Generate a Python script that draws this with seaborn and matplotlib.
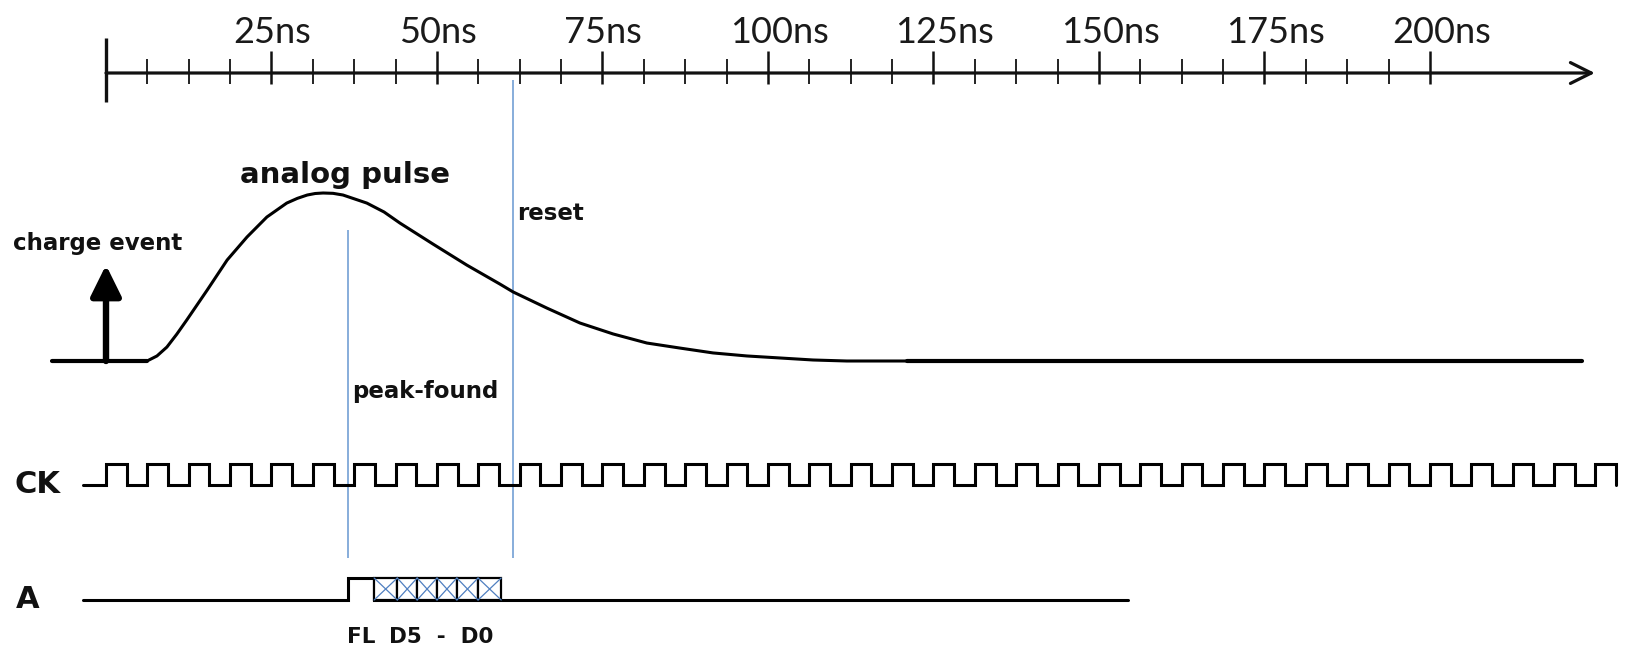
import numpy as np
import pandas as pd
import matplotlib
matplotlib.use("Agg")
import matplotlib.pyplot as plt
import seaborn as sns
from matplotlib.patches import Rectangle

# ------------------------------------------------------------------ data
tick_major_ns = [25, 50, 75, 100, 125, 150, 175, 200]
tick_labels = ["25ns", "50ns", "75ns", "100ns", "125ns", "150ns", "175ns", "200ns"]
minor_step_ns = 6.25
axis_end_ns = 224.9

# analog pulse (time in ns, normalised amplitude)
pulse_t_ns = [6.2, 7.7, 9.2, 10.7, 12.2, 15.3, 18.3, 21.3, 24.3, 27.3, 28.9,
              30.4, 31.6, 32.8, 34.3, 35.8, 39.4, 42.0, 44.4, 49.4, 54.5,
              59.5, 61.5, 66.6, 71.6, 76.6, 81.7, 86.7, 91.7, 96.8, 101.8,
              106.8, 111.9, 121.0]
pulse_amp = [0.0, 0.03, 0.083, 0.16, 0.244, 0.423, 0.601, 0.738, 0.857, 0.940,
             0.968, 0.988, 0.997, 1.0, 0.998, 0.988, 0.940, 0.887, 0.821,
             0.696, 0.571, 0.458, 0.411, 0.315, 0.226, 0.161, 0.107, 0.077,
             0.048, 0.030, 0.018, 0.006, 0.0, 0.0]
baseline_left_ns = [-8.2, 6.2]
baseline_right_ns = [121.0, 223.0]

charge_event_ns = 0.0
peak_found_ns = 36.5
reset_ns = 61.5

# clock
ck_period_ns = 6.25
ck_start_ns = -3.5
ck_cycles = 37

# A output line
a_start_ns = -3.5
a_end_ns = 154.4
fl_rise_ns = 36.5
fl_fall_ns = 40.5
d_edges_ns = [40.5, 44.0, 47.0, 50.0, 53.0, 56.2, 59.7]

# ------------------------------------------------------------------ layout (pixel rows, ns columns)
W, H = 1633, 651
PX_PER_NS = 6.62
X0_PX = 106
AXIS_Y = 73
PULSE_BASE, PULSE_H = 361, 168
CK_LOW, CK_HIGH = 485, 464
A_LOW, A_HIGH = 600, 578
BLUE = "#7ea7d8"
XBLUE = "#4f7fc0"

sns.set_theme(style="white")
plt.rcParams["font.family"] = ["DejaVu Sans"]

fig = plt.figure(figsize=(W / 100, H / 100), dpi=100)
ax = fig.add_axes([0, 0, 1, 1])
ax.set_xlim(-X0_PX / PX_PER_NS, (W - X0_PX) / PX_PER_NS)
ax.set_ylim(H, 0)
ax.axis("off")
fig.patch.set_facecolor("white")

# ------------------------------------------------------------------ time axis
ax.annotate("", xy=(axis_end_ns, AXIS_Y), xytext=(0, AXIS_Y),
            arrowprops=dict(arrowstyle="->,head_length=1.0,head_width=0.5",
                            mutation_scale=15, lw=2.3, color="#111111",
                            shrinkA=0, shrinkB=0))
ax.vlines(0, AXIS_Y - 35, AXIS_Y + 29, color="#111111", lw=2.4)
minor_ticks = np.arange(minor_step_ns, tick_major_ns[-1] + 0.01, minor_step_ns)
minor_ticks = [t for t in minor_ticks if not np.isclose(t % 25, 0)]
ax.vlines(minor_ticks, AXIS_Y - 14, AXIS_Y + 11, color="#111111", lw=1.3)
ax.vlines(tick_major_ns, AXIS_Y - 22, AXIS_Y + 11, color="#111111", lw=1.8)
for t, lab in zip(tick_major_ns, tick_labels):
    ax.annotate(lab, xy=(t, AXIS_Y), xytext=(-27.4, 21.6), textcoords="offset points",
                ha="left", va="baseline", fontsize=26, family=["Lato", "DejaVu Sans"],
                color="#1a1a1a")

# ------------------------------------------------------------------ analog pulse
pulse_df = pd.DataFrame({"t": pulse_t_ns,
                         "y": [PULSE_BASE - a * PULSE_H for a in pulse_amp]})
sns.lineplot(data=pulse_df, x="t", y="y", ax=ax, color="black", lw=2.2,
             sort=False, estimator=None, solid_joinstyle="round",
             solid_capstyle="round")
sns.lineplot(x=baseline_left_ns, y=[PULSE_BASE] * 2, ax=ax, color="black", lw=3.0,
             sort=False, estimator=None)
sns.lineplot(x=baseline_right_ns, y=[PULSE_BASE] * 2, ax=ax, color="black", lw=3.0,
             sort=False, estimator=None)

# charge event arrow
ax.annotate("", xy=(charge_event_ns, 265), xytext=(charge_event_ns, PULSE_BASE),
            arrowprops=dict(arrowstyle="-|>,head_length=0.85,head_width=0.42",
                            mutation_scale=22, lw=4.6, color="black",
                            shrinkA=0, shrinkB=0))

# ------------------------------------------------------------------ clock
ck_t, ck_y = [ck_start_ns], [CK_LOW]
for k in range(ck_cycles):
    r = k * ck_period_ns
    f = r + ck_period_ns / 2
    ck_t += [r, r, f, f]
    ck_y += [CK_LOW, CK_HIGH, CK_HIGH, CK_LOW]
sns.lineplot(x=ck_t, y=ck_y, ax=ax, color="black", lw=2.2, sort=False,
             estimator=None, solid_joinstyle="miter")

# ------------------------------------------------------------------ A line
a_t = [a_start_ns, fl_rise_ns, fl_rise_ns, fl_fall_ns, fl_fall_ns, a_end_ns]
a_y = [A_LOW, A_LOW, A_HIGH, A_HIGH, A_LOW, A_LOW]
sns.lineplot(x=a_t, y=a_y, ax=ax, color="black", lw=2.2, sort=False,
             estimator=None, solid_joinstyle="miter")
for e0, e1 in zip(d_edges_ns[:-1], d_edges_ns[1:]):
    ax.add_patch(Rectangle((e0, A_HIGH), e1 - e0, A_LOW - A_HIGH,
                           facecolor="white", edgecolor="black", lw=1.6, zorder=3))
    ax.plot([e0, e1], [A_HIGH, A_LOW], color=XBLUE, lw=0.9, zorder=4)
    ax.plot([e0, e1], [A_LOW, A_HIGH], color=XBLUE, lw=0.9, zorder=4)

# ------------------------------------------------------------------ marker lines
ax.vlines(peak_found_ns, 230, 558, color=BLUE, lw=1.3, zorder=1)
ax.vlines(reset_ns, 80, 558, color=BLUE, lw=1.3, zorder=1)

# ------------------------------------------------------------------ labels
def px2ns(px):
    return (px - X0_PX) / PX_PER_NS

bold = dict(fontweight="bold", color="#111111", ha="left", va="baseline")
ax.text(px2ns(240), 183, "analog pulse", fontsize=21, **bold)
ax.text(px2ns(13), 250, "charge event", fontsize=16.5, **bold)
ax.text(px2ns(517), 220, "reset", fontsize=16.5, **bold)
ax.text(px2ns(352), 398, "peak-found", fontsize=16.5, **bold)
ax.text(px2ns(15), 493, "CK", fontsize=22, **bold)
ax.text(px2ns(16), 608, "A", fontsize=22, **bold)
ax.text((fl_rise_ns + fl_fall_ns) / 2, 643, "FL", fontsize=15.5, fontweight="bold",
        color="#111111", ha="center", va="baseline")
ax.text((d_edges_ns[0] + d_edges_ns[-1]) / 2 + 0.5, 643, "D5  -  D0", fontsize=15.5,
        fontweight="bold", color="#111111", ha="center", va="baseline")

fig.savefig("out.png", dpi=100, facecolor="white")
